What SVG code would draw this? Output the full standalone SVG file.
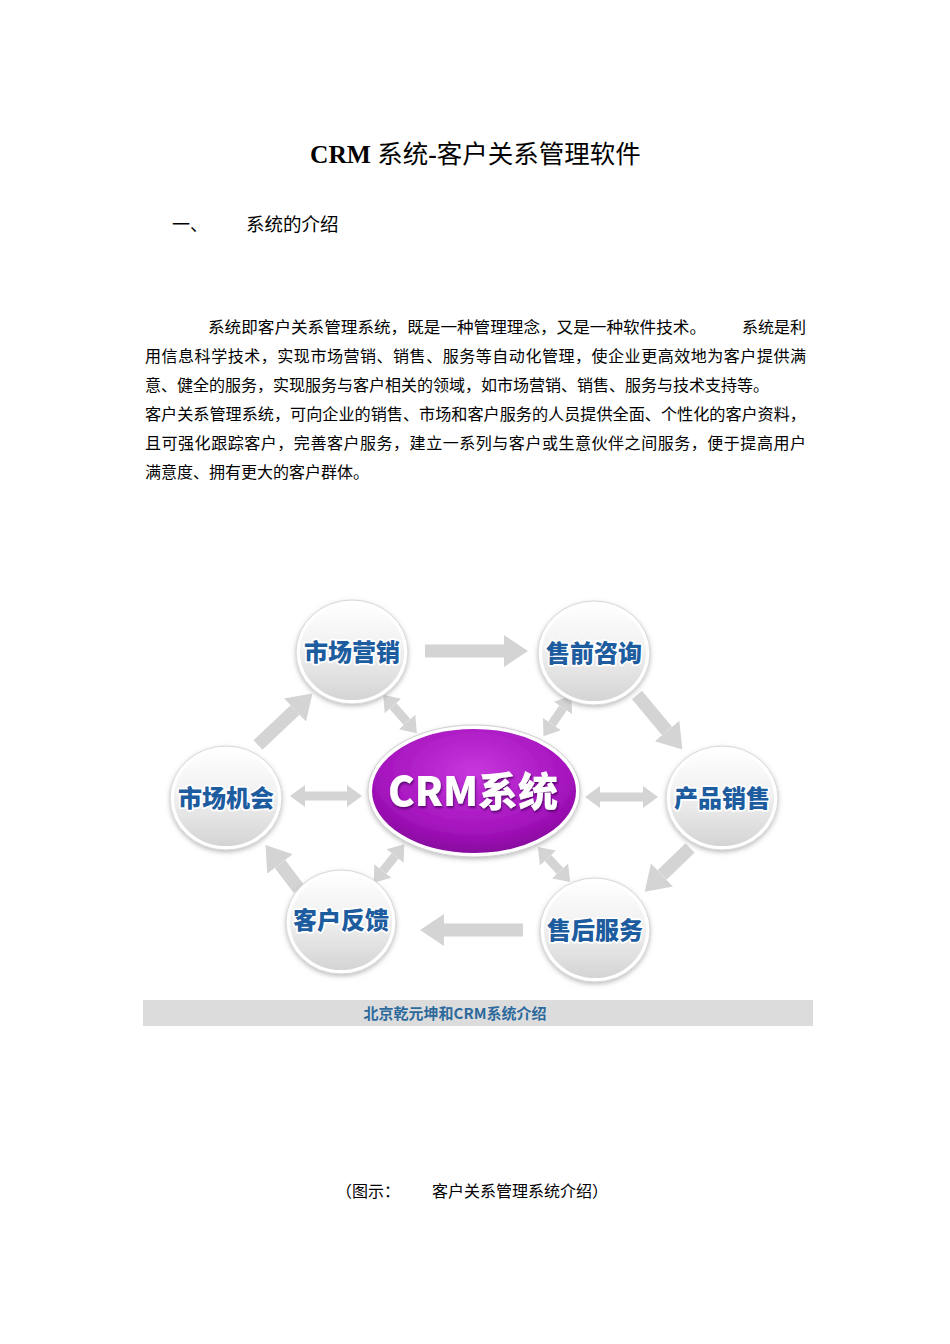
<svg xmlns="http://www.w3.org/2000/svg" width="950" height="1344" viewBox="0 0 950 1344">
<style>
.doc{font-family:"Liberation Serif","Noto Sans CJK SC",serif;fill:#000}
.body{font-size:16px}
.lbl{font-family:"Noto Sans CJK SC","Noto Sans",sans-serif;font-weight:900;font-size:24px;fill:#1d5c9e;stroke:#ffffff;stroke-width:3.5px;paint-order:stroke;stroke-linejoin:round;text-anchor:middle}
.ball{fill:url(#ballGrad);stroke:#ffffff;stroke-width:4;filter:url(#shadow)}
.rim{fill:none;stroke:#d8d8d8;stroke-width:1}
.arr{stroke:#d4d4d4;stroke-width:13;fill:none;marker-end:url(#head)}
.darr{stroke:#d4d4d4;stroke-width:9;fill:none;marker-end:url(#dhead);marker-start:url(#dhead)}
</style>
<defs>
<linearGradient id="ballGrad" x1="0" y1="0" x2="0" y2="1">
<stop offset="0" stop-color="#ffffff"/>
<stop offset="0.45" stop-color="#f1f1f1"/>
<stop offset="1" stop-color="#d3d3d3"/>
</linearGradient>
<radialGradient id="crmGrad" cx="0.5" cy="0.35" r="0.65">
<stop offset="0" stop-color="#c637dc"/>
<stop offset="0.7" stop-color="#a514bd"/>
<stop offset="1" stop-color="#86079c"/>
</radialGradient>
<filter id="shadow" x="-20%" y="-20%" width="140%" height="140%">
<feDropShadow dx="0" dy="2" stdDeviation="2.5" flood-color="#8a8a8a" flood-opacity="0.6"/>
</filter>
<filter id="tshadow" x="-10%" y="-20%" width="120%" height="140%">
<feDropShadow dx="1" dy="2" stdDeviation="1" flood-color="#4a0060" flood-opacity="0.8"/>
</filter>
<marker id="head" markerUnits="userSpaceOnUse" markerWidth="26" markerHeight="34" refX="0" refY="17" orient="auto-start-reverse">
<path d="M0,1 L24,17 L0,33 z" fill="#d4d4d4"/>
</marker>
<marker id="dhead" markerUnits="userSpaceOnUse" markerWidth="17" markerHeight="24" refX="0" refY="12" orient="auto-start-reverse">
<path d="M0,1 L15,12 L0,23 z" fill="#d4d4d4"/>
</marker>
</defs>
<rect width="950" height="1344" fill="#ffffff"/>

<g id="title">
<text class="doc" x="310" y="163" font-size="25.5"><tspan font-weight="bold">CRM</tspan> 系统<tspan font-weight="bold">-</tspan>客户关系管理软件</text>
</g>
<g id="heading">
<text class="doc" x="172" y="231" font-size="18">一、</text>
<text class="doc" x="246" y="231" font-size="18.5">系统的介绍</text>
</g>
<g id="paragraph" class="doc body">
<text x="208" y="333" textLength="498" lengthAdjust="spacingAndGlyphs">系统即客户关系管理系统，既是一种管理理念，又是一种软件技术。</text>
<text x="742" y="333" textLength="64" lengthAdjust="spacingAndGlyphs">系统是利</text>
<text x="145" y="362" textLength="661" lengthAdjust="spacing">用信息科学技术，实现市场营销、销售、服务等自动化管理，使企业更高效地为客户提供满</text>
<text x="145" y="391">意、健全的服务，实现服务与客户相关的领域，如市场营销、销售、服务与技术支持等。</text>
<text x="145" y="420" textLength="661" lengthAdjust="spacingAndGlyphs">客户关系管理系统，可向企业的销售、市场和客户服务的人员提供全面、个性化的客户资料，</text>
<text x="145" y="449" textLength="661" lengthAdjust="spacing">且可强化跟踪客户，完善客户服务，建立一系列与客户或生意伙伴之间服务，便于提高用户</text>
<text x="145" y="478">满意度、拥有更大的客户群体。</text>
</g>

<g id="connectors">
<line class="arr" x1="425" y1="651" x2="504" y2="651"/>
<line class="arr" x1="637" y1="695" x2="667" y2="731"/>
<line class="arr" x1="690" y1="848" x2="662" y2="875"/>
<line class="arr" x1="523" y1="930" x2="444" y2="930"/>
<line class="arr" x1="299" y1="889" x2="280" y2="864"/>
<line class="arr" x1="258" y1="745" x2="295" y2="710"/>
<line class="darr" x1="393" y1="706" x2="407" y2="722"/>
<line class="darr" x1="563" y1="708" x2="552" y2="724"/>
<line class="darr" x1="305" y1="796" x2="347" y2="796"/>
<line class="darr" x1="600" y1="797" x2="643" y2="797"/>
<line class="darr" x1="383" y1="871" x2="395" y2="856"/>
<line class="darr" x1="548" y1="858" x2="560" y2="871"/>
</g>

<g id="node-scyx">
<ellipse class="ball" cx="352" cy="652" rx="54" ry="50"/>
<ellipse class="rim" cx="352" cy="652" rx="56" ry="52"/>
<text class="lbl" x="352" y="661">市场营销</text>
</g>
<g id="node-sqzx">
<ellipse class="ball" cx="594" cy="653" rx="54" ry="50"/>
<ellipse class="rim" cx="594" cy="653" rx="56" ry="52"/>
<text class="lbl" x="594" y="662">售前咨询</text>
</g>
<g id="node-scjh">
<ellipse class="ball" cx="226" cy="798" rx="54" ry="50"/>
<ellipse class="rim" cx="226" cy="798" rx="56" ry="52"/>
<text class="lbl" x="226" y="807">市场机会</text>
</g>
<g id="node-cpxs">
<ellipse class="ball" cx="722" cy="798" rx="54" ry="50"/>
<ellipse class="rim" cx="722" cy="798" rx="56" ry="52"/>
<text class="lbl" x="722" y="807">产品销售</text>
</g>
<g id="node-khfk">
<ellipse class="ball" cx="341" cy="922" rx="53" ry="50"/>
<ellipse class="rim" cx="341" cy="922" rx="55" ry="52"/>
<text class="lbl" x="341" y="929">客户反馈</text>
</g>
<g id="node-shfw">
<ellipse class="ball" cx="595" cy="930" rx="53" ry="50"/>
<ellipse class="rim" cx="595" cy="930" rx="55" ry="52"/>
<text class="lbl" x="595" y="939">售后服务</text>
</g>
<g id="node-crm">
<ellipse cx="474" cy="791" rx="104" ry="64" fill="url(#crmGrad)" stroke="#ffffff" stroke-width="4" filter="url(#shadow)"/>
<ellipse cx="474" cy="791" rx="106" ry="66" fill="none" stroke="#cfcfcf" stroke-width="1"/>
<text x="473" y="806" text-anchor="middle" font-family="'Noto Sans CJK SC','Noto Sans',sans-serif" font-weight="900" font-size="40" fill="#ffffff" filter="url(#tshadow)">CRM系统</text>
</g>

<g id="banner">
<rect x="143" y="1000" width="670" height="26" fill="#dcdcdc"/>
<text x="455" y="1019" text-anchor="middle" font-family="'Noto Sans CJK SC','Noto Sans',sans-serif" font-weight="bold" font-size="15" fill="#2d6a9c">北京乾元坤和CRM系统介绍</text>
</g>

<g id="caption" class="doc body">
<text x="336" y="1197">（图示：</text>
<text x="432" y="1197">客户关系管理系统介绍）</text>
</g>
</svg>
